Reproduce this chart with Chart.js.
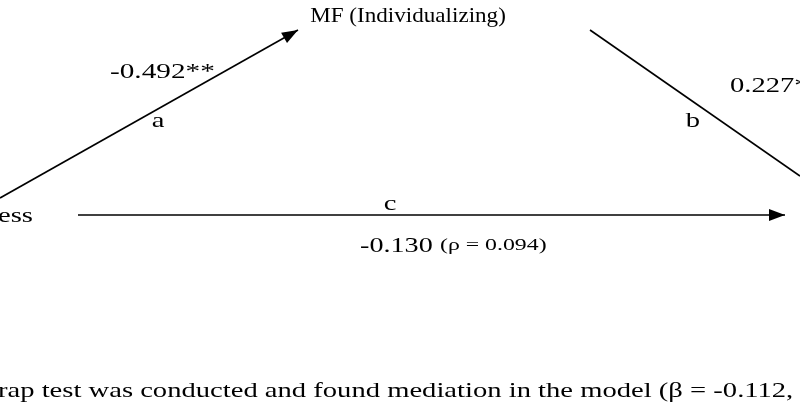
<!DOCTYPE html>
<html><head><meta charset="utf-8">
<script src="https://cdn.jsdelivr.net/npm/chart.js@4/dist/chart.umd.min.js"></script>
<style>html,body{margin:0;background:#fff}#wrap{width:800px;height:419px}</style>
</head><body><div id="wrap"><canvas id="myChart"></canvas></div>
<script>
// path endpoints in diagram units (x 0-800, y 0-419 from top)
const pathA = [{x:0,y:198},{x:298,y:30}];
const pathB = [{x:590,y:30},{x:800,y:176}];
const pathC = [{x:78,y:215},{x:785,y:215}];
// sx = horizontal stretch of the text
const labels = [
  {t:'MF (Individualizing)', x:408, y:16, s:22, a:'center', sx:1.05},
  {t:'-0.492**', x:110, y:72, s:22, a:'left', sx:1.33},
  {t:'a', x:158, y:121, s:22, a:'center', sx:1.3},
  {t:'b', x:693, y:121, s:22, a:'center', sx:1.3},
  {t:'0.227*', x:730, y:86, s:22, a:'left', sx:1.3},
  {t:'ess', x:-2, y:216, s:22, a:'left', sx:1.3},
  {t:'c', x:390, y:204, s:22, a:'center', sx:1.3},
  {t:'-0.130', x:360, y:246, s:22, a:'left', sx:1.28},
  {t:'(ρ = 0.094)', x:440, y:246, s:17, a:'left', sx:1.4},
  {t:'rap test was conducted and found mediation in the model (β = -0.112,', x:-2, y:391, s:22, a:'left', sx:1.3}
];

const diagramPlugin = {
  id:'diagram',
  afterDatasetsDraw(chart){
    const {ctx, scales:{x, y}} = chart;
    ctx.save();
    ctx.fillStyle = '#000';
    [pathA, pathC].forEach(p=>{
      const x0=x.getPixelForValue(p[0].x), y0=y.getPixelForValue(p[0].y);
      const x1=x.getPixelForValue(p[1].x), y1=y.getPixelForValue(p[1].y);
      const ang=Math.atan2(y1-y0,x1-x0), L=16, W=6;
      ctx.beginPath();
      ctx.moveTo(x1,y1);
      ctx.lineTo(x1-L*Math.cos(ang)+W*Math.sin(ang), y1-L*Math.sin(ang)-W*Math.cos(ang));
      ctx.lineTo(x1-L*Math.cos(ang)-W*Math.sin(ang), y1-L*Math.sin(ang)+W*Math.cos(ang));
      ctx.closePath(); ctx.fill();
    });
    ctx.textBaseline='middle';
    labels.forEach(l=>{
      ctx.save();
      ctx.font = l.s+'px "Liberation Serif", "DejaVu Serif", serif';
      ctx.textAlign = l.a;
      ctx.translate(x.getPixelForValue(l.x), y.getPixelForValue(l.y));
      ctx.scale(l.sx, 1);
      ctx.fillText(l.t, 0, 0);
      ctx.restore();
    });
    ctx.restore();
  }
};

const mk = d => ({data:d, borderColor:'#000', borderWidth:1.6, pointRadius:0, showLine:true, fill:false});
new Chart(document.getElementById('myChart'), {
  type:'scatter',
  data:{datasets:[mk(pathA), mk(pathB), mk(pathC)]},
  options:{
    animation:false, responsive:true, maintainAspectRatio:false,
    layout:{padding:0},
    plugins:{legend:{display:false}, tooltip:{enabled:false}},
    scales:{
      x:{type:'linear', min:0, max:800, display:false},
      y:{type:'linear', min:0, max:419, reverse:true, display:false}
    }
  },
  plugins:[diagramPlugin]
});
</script></body></html>
